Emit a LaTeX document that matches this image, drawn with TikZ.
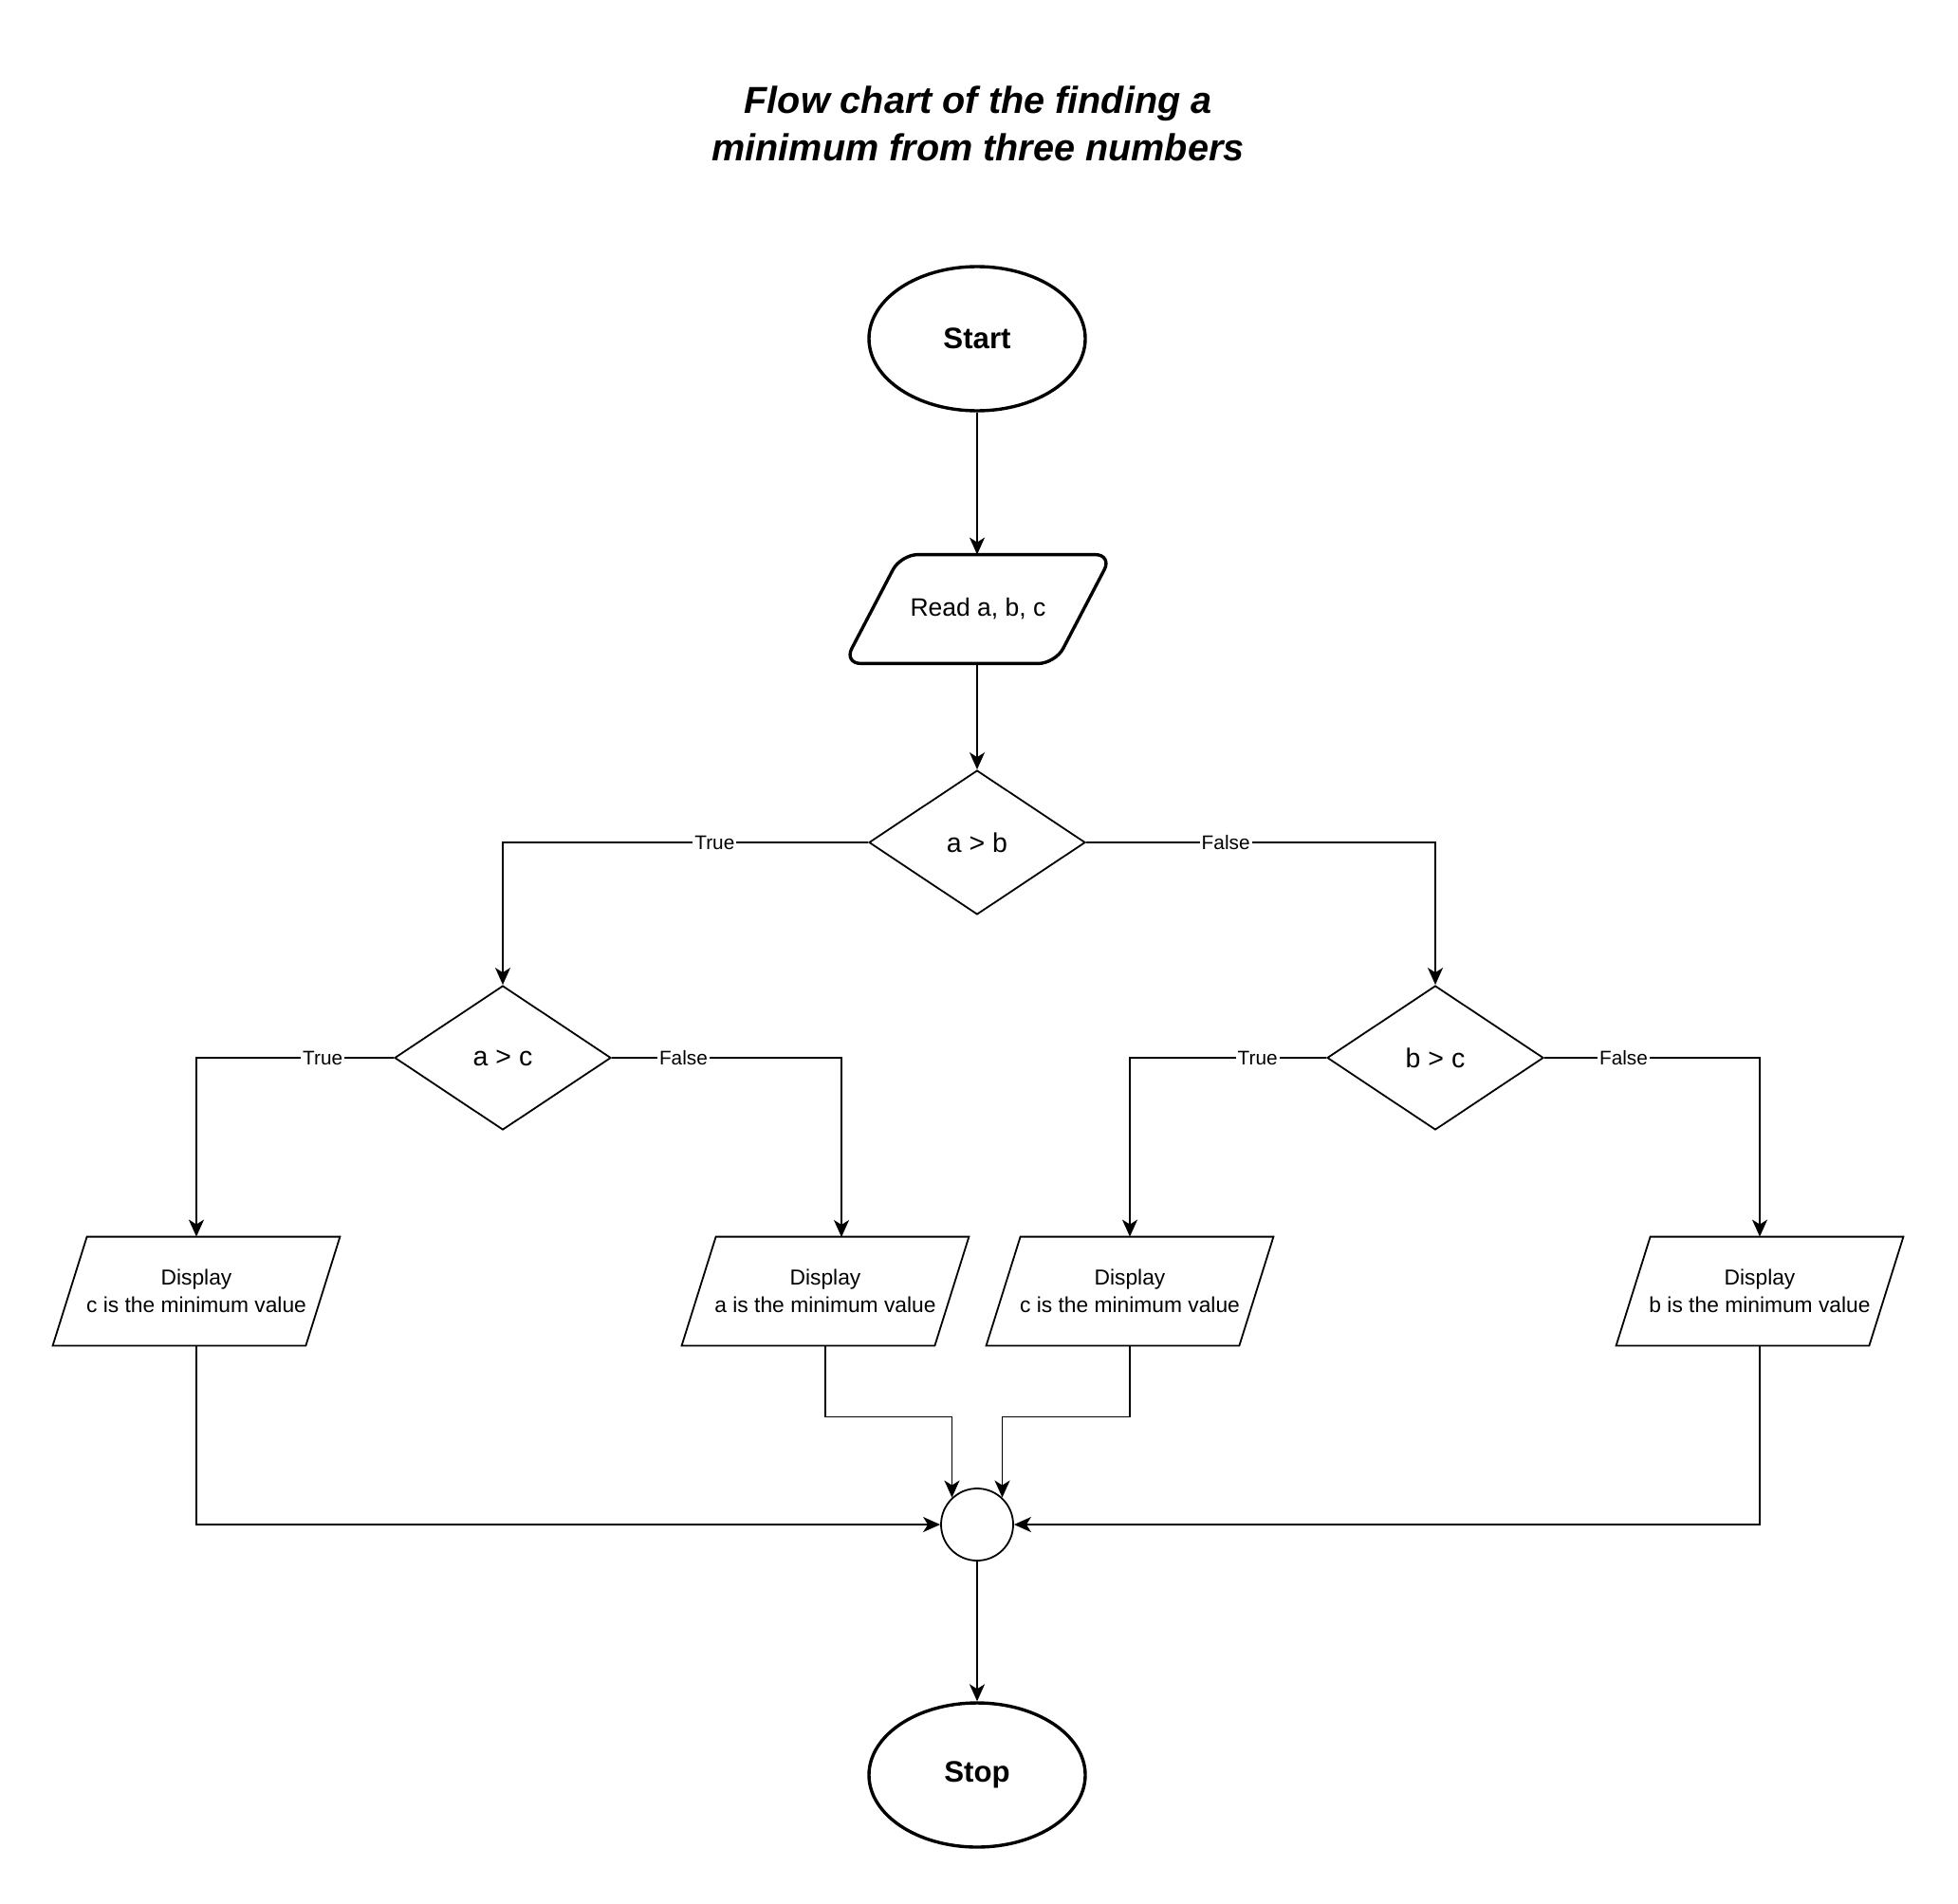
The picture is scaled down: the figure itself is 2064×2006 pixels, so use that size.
\documentclass[tikz,border=0pt]{standalone}
\usepackage{fontspec}
\setmainfont{Liberation Sans}
\usetikzlibrary{shapes.geometric,arrows.meta,calc}

\begin{document}
\begin{tikzpicture}[x=0.5pt,y=-0.5pt,
  base/.style={line width=0.9pt},
  arr/.style={base,-{Stealth[length=9pt,width=8pt,inset=2.5pt]}},
  term/.style={ellipse,draw,line width=1.7pt,minimum width=114pt,minimum height=76pt,inner sep=0pt,
    font=\bfseries\fontsize{15.6}{18}\selectfont},
  cond/.style={diamond,draw,base,minimum width=114pt,minimum height=76pt,inner sep=0pt,
    font=\fontsize{14.25}{17}\selectfont},
  iobox/.style={minimum width=151pt,minimum height=57pt,inner sep=0pt,align=center,
    font=\fontsize{11.4}{14.5}\selectfont},
  lbl/.style={fill=white,inner sep=1pt,font=\fontsize{10.4}{12}\selectfont},
  junction/.style={circle,draw,base,minimum size=38pt,inner sep=0pt},
]
% page area
\useasboundingbox[fill=white] (0,0) rectangle (2064,2006);

% heading
\node[font=\bfseries\itshape\fontsize{19.8}{25}\selectfont,align=center] (title) at (1031,130)
  {Flow chart of the finding a\\minimum from three numbers};

% terminals
\node[term] (start) at (1030,357) {Start};
\node[term] (stop) at (1030,1871) {Stop};

% input box: slanted outline with rounded corners
\node[minimum width=141pt,minimum height=57pt,inner sep=0pt,font=\fontsize{13.25}{16}\selectfont] (read) at (1031,642) {Read a, b, c};
\draw[line width=1.7pt,rounded corners=9pt]
  ($(read.north west)+(60,0)$) -- (read.north east) -- ($(read.south east)+(-60,0)$)
  -- (read.south west) -- cycle;

% decisions
\node[cond] (ab) at (1030,888) {a > b};
\node[cond] (ac) at (530,1115) {a > c};
\node[cond] (bc) at (1513,1115) {b > c};

% output boxes
\node[iobox] (d1) at (207,1361) {Display\\c is the minimum value};
\node[iobox] (d2) at (870,1361) {Display\\a is the minimum value};
\node[iobox] (d3) at (1191,1361) {Display\\c is the minimum value};
\node[iobox] (d4) at (1855,1361) {Display\\b is the minimum value};
\foreach \b in {d1,d2,d3,d4}{
  \draw[base] ($(\b.north west)+(36,0)$) -- (\b.north east) -- ($(\b.south east)+(-36,0)$)
    -- (\b.south west) -- cycle;
}
\coordinate (d2in) at (887,1304);

% merge point
\node[junction] (j) at (1030,1607) {};

% connectors
\draw[arr] (start) -- (read.north -| start);
\draw[arr] (read.south -| ab) -- (ab);
\draw[arr] (ab.west) -| node[lbl,pos=0.21] {True} (ac.north);
\draw[arr] (ab.east) -| node[lbl,pos=0.2] {False} (bc.north);
\draw[arr] (ac.west) -| node[lbl,pos=0.18] {True} (d1.north);
\draw[arr] (ac.east) -| node[lbl,pos=0.156] {False} (d2in);
\draw[arr] (bc.west) -| node[lbl,pos=0.175] {True} (d3.north);
\draw[arr] (bc.east) -| node[lbl,pos=0.184] {False} (d4.north);

\draw[arr] (d1.south) |- (j.west);
\draw[arr] (d4.south) |- (j.east);
\draw[arr] (d2.south) -- ++(0,75) -| (j.133);
\draw[arr] (d3.south) -- ++(0,75) -| (j.47);
\draw[arr] (j) -- (stop);
\end{tikzpicture}
\end{document}
